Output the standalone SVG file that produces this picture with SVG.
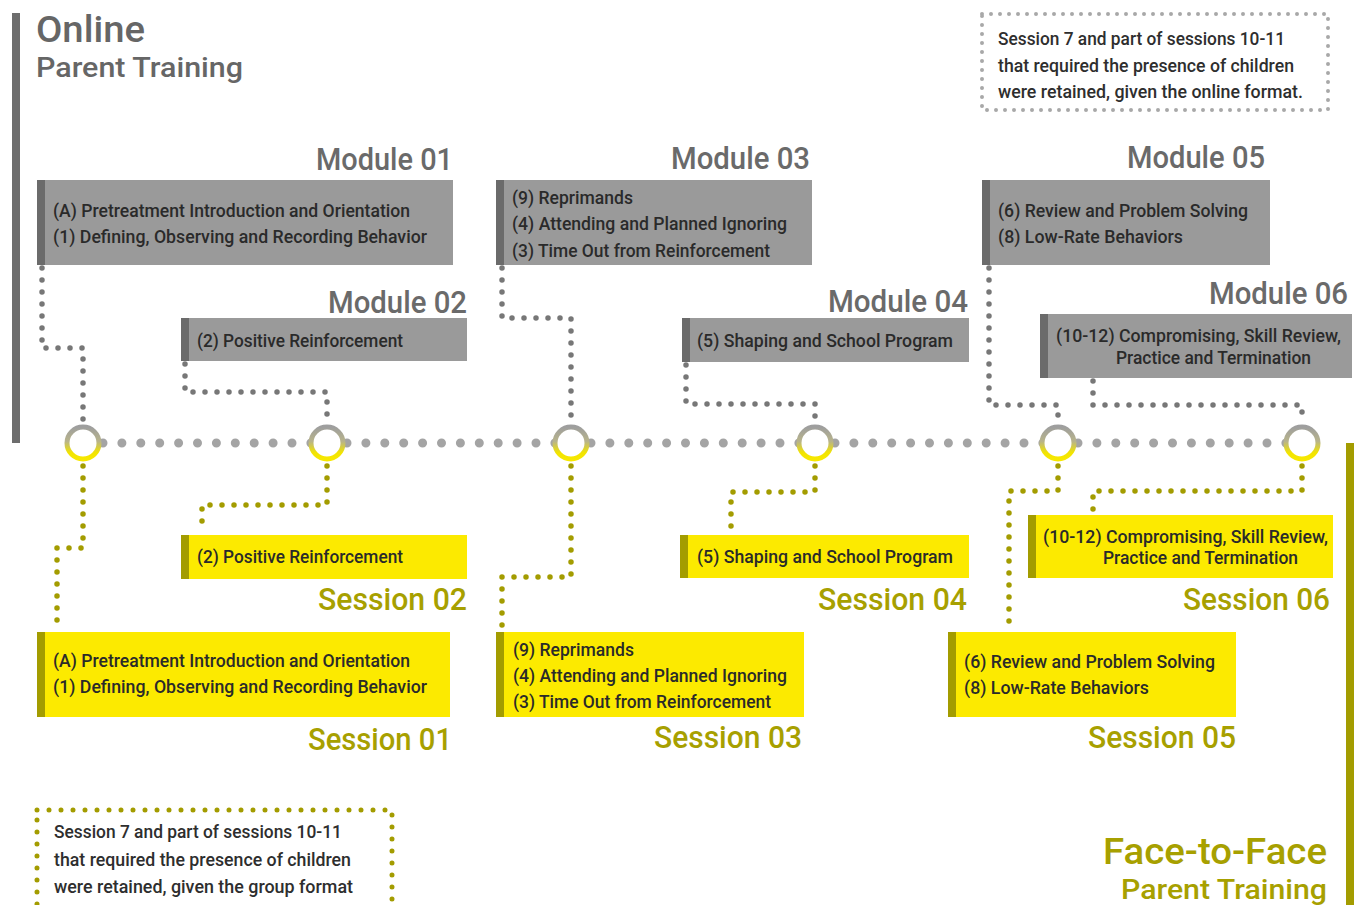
<svg xmlns="http://www.w3.org/2000/svg" width="1361" height="905" viewBox="0 0 1361 905">
<defs>
<linearGradient id="ring" x1="0" y1="0" x2="0" y2="1">
<stop offset="0" stop-color="#9e9e9e"/>
<stop offset="0.45" stop-color="#b8b48a"/>
<stop offset="0.8" stop-color="#f2e400"/>
<stop offset="1" stop-color="#f7e800"/>
</linearGradient>
<style>
text{font-family:Roboto,"Liberation Sans",sans-serif;font-weight:500}
.mt{fill:#6a6a6a;font-size:32px;text-anchor:end}
.st{fill:#a7a000;font-size:32px;text-anchor:end}
.bt{fill:#2a2a2a;font-size:17.5px}
.nt{fill:#2e2e2e;font-size:17.5px}
.gbox{fill:#9a9a9a}
.gstr{fill:#6b6b6b}
.ybox{fill:#fcea00}
.ystr{fill:#a39c00}
.gc{fill:none;stroke:#777;stroke-width:5.5;stroke-linecap:round;stroke-dasharray:0 12}
.yc{fill:none;stroke:#a39c00;stroke-width:5.5;stroke-linecap:round;stroke-dasharray:0 12}
.tl{stroke:#a4a4a4;stroke-width:9;stroke-linecap:round;stroke-dasharray:0 18.9}
.ring{fill:#fff;stroke:url(#ring);stroke-width:5}
</style>
</defs>
<rect width="1361" height="905" fill="#fff"/>

<g id="online-title">
<rect x="12" y="13" width="8" height="430" fill="#6d6d6d"/>
<text x="36" y="42" style="font-size:37px;fill:#666" textLength="109" lengthAdjust="spacingAndGlyphs">Online</text>
<text x="36" y="77" style="font-size:28px;fill:#666" textLength="207" lengthAdjust="spacingAndGlyphs">Parent Training</text>
</g>

<g id="f2f-title">
<rect x="1346" y="443" width="8" height="462" fill="#a39c00"/>
<text x="1327" y="864" style="font-size:37px;fill:#a7a000;text-anchor:end" textLength="224" lengthAdjust="spacingAndGlyphs">Face-to-Face</text>
<text x="1327" y="899" style="font-size:28px;fill:#a7a000;text-anchor:end" textLength="206" lengthAdjust="spacingAndGlyphs">Parent Training</text>
</g>

<g id="note-online">
<rect x="982" y="14" width="346" height="96" fill="none" stroke="#a8a8a8" stroke-width="4" stroke-linecap="round" stroke-dasharray="0 9"/>
<text class="nt" x="998" y="45" textLength="287" lengthAdjust="spacingAndGlyphs">Session 7 and part of sessions 10-11</text>
<text class="nt" x="998" y="72" textLength="296" lengthAdjust="spacingAndGlyphs">that required the presence of children</text>
<text class="nt" x="998" y="98" textLength="305" lengthAdjust="spacingAndGlyphs">were retained, given the online format.</text>
</g>

<g id="note-group">
<rect x="37" y="810" width="355" height="100" fill="none" stroke="#a39c00" stroke-width="5" stroke-linecap="round" stroke-dasharray="0 12"/>
<text class="nt" x="54" y="838" textLength="288" lengthAdjust="spacingAndGlyphs">Session 7 and part of sessions 10-11</text>
<text class="nt" x="54" y="866" textLength="297" lengthAdjust="spacingAndGlyphs">that required the presence of children</text>
<text class="nt" x="54" y="893" textLength="299" lengthAdjust="spacingAndGlyphs">were retained, given the group format</text>
</g>

<g id="connectors">
<line class="tl" x1="103" y1="443" x2="311" y2="443"/>
<line class="tl" x1="347" y1="443" x2="555" y2="443"/>
<line class="tl" x1="591" y1="443" x2="799" y2="443"/>
<line class="tl" x1="835" y1="443" x2="1043" y2="443"/>
<line class="tl" x1="1078" y1="443" x2="1286" y2="443"/>
<polyline class="gc" points="42,268 42,348 83,348 83,420"/>
<polyline class="gc" points="185,364 185,392 327,392 327,420"/>
<polyline class="gc" points="502,268 502,318 571,318 571,420"/>
<polyline class="gc" points="686,365 686,404 815,404 815,420"/>
<polyline class="gc" points="989,268 989,405 1058,405 1058,420"/>
<polyline class="gc" points="1093,381 1093,405 1302,405 1302,420"/>
<polyline class="yc" points="83,466 83,548 57,548 57,626"/>
<polyline class="yc" points="327,466 327,505 202,505 202,530"/>
<polyline class="yc" points="571,466 571,577 502,577 502,626"/>
<polyline class="yc" points="815,466 815,492 731,492 731,530"/>
<polyline class="yc" points="1058,466 1058,491 1009,491 1009,626"/>
<polyline class="yc" points="1302,466 1302,491 1093,491 1093,510"/>
</g>

<g id="milestones">
<circle class="ring" cx="83" cy="443" r="16"/>
<circle class="ring" cx="327" cy="443" r="16"/>
<circle class="ring" cx="571" cy="443" r="16"/>
<circle class="ring" cx="815" cy="443" r="16"/>
<circle class="ring" cx="1058" cy="443" r="16"/>
<circle class="ring" cx="1302" cy="443" r="16"/>
</g>

<g id="module01">
<text class="mt" x="453" y="170" textLength="137" lengthAdjust="spacingAndGlyphs">Module 01</text>
<rect class="gbox" x="37" y="180" width="416" height="85"/>
<rect class="gstr" x="37" y="180" width="8" height="85"/>
<text class="bt" x="53" y="217" textLength="357" lengthAdjust="spacingAndGlyphs">(A) Pretreatment Introduction and Orientation</text>
<text class="bt" x="53" y="243" textLength="374" lengthAdjust="spacingAndGlyphs">(1) Defining, Observing and Recording Behavior</text>
</g>

<g id="module02">
<text class="mt" x="467" y="313" textLength="139" lengthAdjust="spacingAndGlyphs">Module 02</text>
<rect class="gbox" x="181" y="318" width="286" height="43"/>
<rect class="gstr" x="181" y="318" width="8" height="43"/>
<text class="bt" x="197" y="347" textLength="206" lengthAdjust="spacingAndGlyphs">(2) Positive Reinforcement</text>
</g>

<g id="module03">
<text class="mt" x="810" y="169" textLength="139" lengthAdjust="spacingAndGlyphs">Module 03</text>
<rect class="gbox" x="496" y="180" width="316" height="85"/>
<rect class="gstr" x="496" y="180" width="8" height="85"/>
<text class="bt" x="512" y="204" textLength="121" lengthAdjust="spacingAndGlyphs">(9) Reprimands</text>
<text class="bt" x="512" y="230" textLength="275" lengthAdjust="spacingAndGlyphs">(4) Attending and Planned Ignoring</text>
<text class="bt" x="512" y="257" textLength="258" lengthAdjust="spacingAndGlyphs">(3) Time Out from Reinforcement</text>
</g>

<g id="module04">
<text class="mt" x="968" y="312" textLength="140" lengthAdjust="spacingAndGlyphs">Module 04</text>
<rect class="gbox" x="682" y="318" width="287" height="44"/>
<rect class="gstr" x="682" y="318" width="8" height="44"/>
<text class="bt" x="697" y="347" textLength="256" lengthAdjust="spacingAndGlyphs">(5) Shaping and School Program</text>
</g>

<g id="module05">
<text class="mt" x="1265" y="168" textLength="138" lengthAdjust="spacingAndGlyphs">Module 05</text>
<rect class="gbox" x="982" y="180" width="288" height="85"/>
<rect class="gstr" x="982" y="180" width="8" height="85"/>
<text class="bt" x="998" y="217" textLength="250" lengthAdjust="spacingAndGlyphs">(6) Review and Problem Solving</text>
<text class="bt" x="998" y="243" textLength="185" lengthAdjust="spacingAndGlyphs">(8) Low-Rate Behaviors</text>
</g>

<g id="module06">
<text class="mt" x="1348" y="304" textLength="139" lengthAdjust="spacingAndGlyphs">Module 06</text>
<rect class="gbox" x="1040" y="314" width="312" height="64"/>
<rect class="gstr" x="1040" y="314" width="8" height="64"/>
<text class="bt" x="1056" y="342" textLength="285" lengthAdjust="spacingAndGlyphs">(10-12) Compromising, Skill Review,</text>
<text class="bt" x="1116" y="364" textLength="195" lengthAdjust="spacingAndGlyphs">Practice and Termination</text>
</g>

<g id="session01">
<rect class="ybox" x="37" y="632" width="413" height="85"/>
<rect class="ystr" x="37" y="632" width="8" height="85"/>
<text class="bt" x="53" y="667" textLength="357" lengthAdjust="spacingAndGlyphs">(A) Pretreatment Introduction and Orientation</text>
<text class="bt" x="53" y="693" textLength="374" lengthAdjust="spacingAndGlyphs">(1) Defining, Observing and Recording Behavior</text>
<text class="st" x="452" y="750" textLength="144" lengthAdjust="spacingAndGlyphs">Session 01</text>
</g>

<g id="session02">
<rect class="ybox" x="181" y="535" width="286" height="44"/>
<rect class="ystr" x="181" y="535" width="8" height="44"/>
<text class="bt" x="197" y="563" textLength="206" lengthAdjust="spacingAndGlyphs">(2) Positive Reinforcement</text>
<text class="st" x="467" y="610" textLength="149" lengthAdjust="spacingAndGlyphs">Session 02</text>
</g>

<g id="session03">
<rect class="ybox" x="496" y="632" width="308" height="85"/>
<rect class="ystr" x="496" y="632" width="8" height="85"/>
<text class="bt" x="513" y="656" textLength="121" lengthAdjust="spacingAndGlyphs">(9) Reprimands</text>
<text class="bt" x="513" y="682" textLength="274" lengthAdjust="spacingAndGlyphs">(4) Attending and Planned Ignoring</text>
<text class="bt" x="513" y="708" textLength="258" lengthAdjust="spacingAndGlyphs">(3) Time Out from Reinforcement</text>
<text class="st" x="802" y="748" textLength="148" lengthAdjust="spacingAndGlyphs">Session 03</text>
</g>

<g id="session04">
<rect class="ybox" x="680" y="535" width="289" height="43"/>
<rect class="ystr" x="680" y="535" width="8" height="43"/>
<text class="bt" x="697" y="563" textLength="256" lengthAdjust="spacingAndGlyphs">(5) Shaping and School Program</text>
<text class="st" x="967" y="610" textLength="149" lengthAdjust="spacingAndGlyphs">Session 04</text>
</g>

<g id="session05">
<rect class="ybox" x="948" y="632" width="288" height="85"/>
<rect class="ystr" x="948" y="632" width="8" height="85"/>
<text class="bt" x="964" y="668" textLength="251" lengthAdjust="spacingAndGlyphs">(6) Review and Problem Solving</text>
<text class="bt" x="964" y="694" textLength="185" lengthAdjust="spacingAndGlyphs">(8) Low-Rate Behaviors</text>
<text class="st" x="1236" y="748" textLength="148" lengthAdjust="spacingAndGlyphs">Session 05</text>
</g>

<g id="session06">
<rect class="ybox" x="1028" y="515" width="305" height="63"/>
<rect class="ystr" x="1028" y="515" width="8" height="63"/>
<text class="bt" x="1043" y="543" textLength="285" lengthAdjust="spacingAndGlyphs">(10-12) Compromising, Skill Review,</text>
<text class="bt" x="1103" y="564" textLength="195" lengthAdjust="spacingAndGlyphs">Practice and Termination</text>
<text class="st" x="1330" y="610" textLength="147" lengthAdjust="spacingAndGlyphs">Session 06</text>
</g>
</svg>
